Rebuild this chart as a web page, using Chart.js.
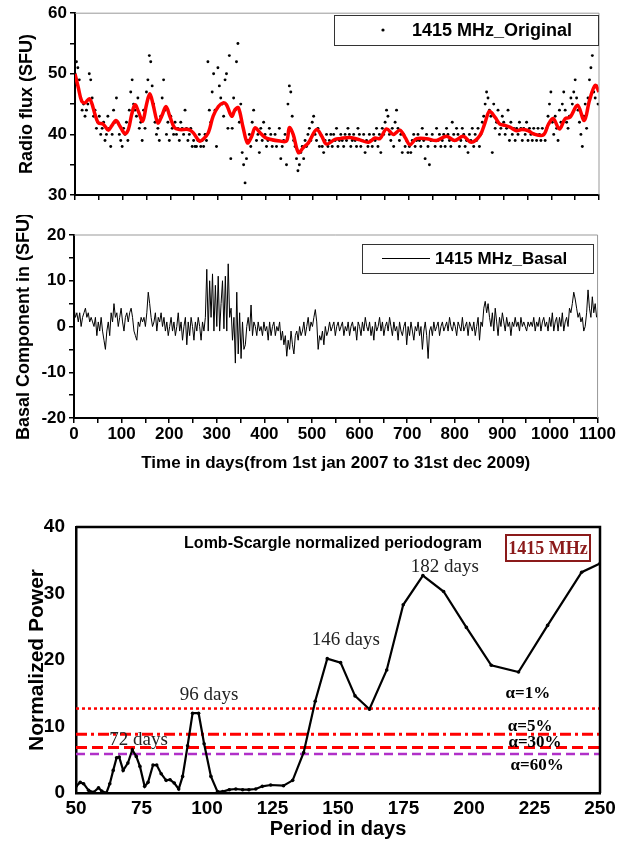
<!DOCTYPE html>
<html>
<head>
<meta charset="utf-8">
<script src="https://cdn.jsdelivr.net/npm/chart.js@4.4.0/dist/chart.umd.min.js"></script>
<style>
  body { margin: 0; background: #fff; }
  #wrap { position: relative; width: 617px; height: 843px; }
  canvas { position: absolute; left: 0; }
</style>
</head>
<body>
<div id="wrap">
  <canvas id="c1" width="617" height="215" style="top:0"></canvas>
  <canvas id="c2" width="617" height="265" style="top:215px"></canvas>
  <canvas id="c3" width="617" height="343" style="top:500px"></canvas>
</div>
<script>
// ---- panel 1: daily flux (one value every 3 days) and its running mean
const dotStep = 3
const dotFlux = [
  50,52,51,49,46,44,45,43,44,45,
  50,49,46,43,44,41,42,43,40,41,
  42,39,40,43,41,38,40,44,42,46,
  42,40,39,38,41,40,42,39,44,47,
  49,45,44,43,46,41,42,39,44,41,
  47,49,53,52,48,45,42,40,41,39,
  43,46,49,44,40,42,39,43,41,40,
  42,40,41,39,42,41,40,44,41,39,
  40,41,38,39,38,38,39,40,38,39,
  38,40,39,52,44,42,47,50,44,38,
  51,48,46,45,43,49,50,41,53,36,
  41,46,44,52,55,42,45,37,35,32,
  36,39,40,38,42,44,41,39,40,37,
  41,39,42,40,38,39,41,40,38,39,
  40,38,39,41,36,38,39,40,35,45,
  48,47,43,39,38,36,34,35,37,38,
  36,39,38,40,41,39,42,43,40,39,
  41,38,40,38,37,39,40,38,39,40,
  38,40,39,41,38,39,40,39,38,40,
  39,41,40,38,39,40,39,38,41,40,
  38,39,40,37,39,38,40,39,38,40,
  39,41,38,40,37,41,40,42,44,43,
  40,39,41,38,42,44,41,39,40,37,
  40,38,39,37,38,37,39,40,38,39,
  40,39,38,41,39,36,40,38,35,39,
  40,39,38,41,39,40,38,39,40,38,
  41,40,39,38,42,40,39,41,40,38,
  39,41,40,38,39,37,40,39,41,38,
  40,39,41,38,40,42,43,45,47,46,
  44,43,37,45,41,42,44,40,41,43,
  42,40,41,44,39,42,40,41,39,41,
  40,42,41,39,41,40,42,39,41,40,
  39,41,40,39,41,40,39,41,40,39,
  41,43,45,47,42,40,43,41,39,44,
  42,45,47,44,42,41,43,46,45,47,
  49,46,44,42,40,38,43,45,41,46,
  49,51,53,47,46,48,45
]

const smoothDays = [0,7,14,21,30,35,42,49,59,70,77,86,94,105,112,119,126,133,142,150,157,164,174,182,191,199,209,220,238,248,261,269,280,290,301,311,318,329,336,343,353,362,371,378,388,399,409,430,444,450,458,469,479,490,507,518,528,546,556,577,598,616,630,640,654,668,682,693,703,717,738,759,780,797,815,832,850,861,870,882,892,903,913,927,938,952,962,983,994,1004,1017,1029,1039,1055,1069,1080,1092,1100]
const smoothFlux = [50,47.7,45.5,45.2,45.9,45.2,43.3,41.9,41.7,40.7,41.4,42.3,41.4,40.1,40.8,43.3,44.9,43.8,42.2,44.9,46.7,44.9,41.9,43,44.6,43,41.1,40.8,40.8,40.3,38.9,39.2,40.3,43,44.6,45.2,44.9,43,44.1,44.4,41.1,38.6,39.7,41.1,40.3,39.5,39.2,38.9,38.9,41.1,40,37,37.8,38.6,40.8,39.7,38.4,39.2,39.3,39.5,39.1,38.7,39.4,39.3,40.9,40,40.7,39.5,38.3,39.3,39.3,39,39.7,39,39.7,38.7,39.8,42,43.8,42.8,41.7,41.5,41.2,40.6,40.8,40.6,40.1,39.9,41.7,42.6,40.9,42.6,42.8,44.8,42.3,45.6,48.1,47]

// ---- panel 2: basal component (one value every 3 days)
const basal = [
  4,2,3,1,3,0,2,3,4,2,
  3,1,2,1,0,2,-2,1,-1,2,
  -1,-3,-5,-1,1,-2,3,1,5,2,
  3,0,2,4,1,-1,2,3,1,3,
  4,2,-1,-2,-3,1,0,2,1,2,
  0,3,7.5,5,2,0,1,3,-1,2,
  1,3,0,2,-1,1,-2,0,2,-1,
  1,-2,0,3,-1,1,-3,0,2,-4,
  1,-2,2,0,-3,1,-1,2,0,-3,
  1,-1,2,12.5,-1,10,2,11.5,-1,9,
  0,11,-1,5,10,-0.5,11,-1,13.7,2,
  4,-3,2,-8,7.5,-6,3,-7,1,-5,
  -4,0,2,-1,4.7,-2,1,0,-2,1,
  -1,0,-2,1,-1,0,-3,1,-2,0,
  1,-2,0,-1,1,-3,-1,-4,-2,-6.5,
  -3,-5,-1,-4,-6,-2,-1,-3,0,-2,
  -1,1,-2,0,2,-1,1,0,2,3.7,
  1,-5,-2,-3,-1,-4,0,-2,-1,1,
  -1,0,1,-2,0,1,-1,0,1,-2,
  0,-1,1,-2,0,1,-1,0,-3,1,
  0,-2,1,-1,2,0,-1,1,-2,0,
  -3,1,-1,0,2,-1,1,-2,0,1,
  -1,2,0,-2,1,-1,0,-3,1,-1,
  -2,0,1,-4,0,-2,1,-1,-3,0,
  -1,1,-2,0,-5,-1,1,-2,-7,-1,
  0,-2,1,-1,0,1,-2,0,1,-1,
  0,1,-1,2,0,-1,1,0,-2,1,
  0,-1,2,-1,0,1,-2,1,0,-1,
  1,-2,0,2,-3,1,0,4,5.5,3,
  5,2,0,3,-1,4,1,-2,2,0,
  3,1,-1,2,0,1,-2,1,0,2,
  0,1,-1,2,0,1,0,-1,1,0,
  1,0,2,-1,1,0,2,-1,1,2,
  0,1,-1,2,0,3,-1,1,2,-1,
  2,0,3,-1,1,2,0,4,3,5,
  7.5,6,4,2,3,1,2,-1,0,3,
  8,4,2,6.5,3,5,2
]

// ---- panel 3: Lomb-Scargle periodogram
const periods = [50,51.6,52.9,54.8,56.7,58.6,59.8,61.6,62.9,64.2,65.5,66.5,68,69.8,71.5,73,74.4,76.2,77.5,79.4,80.8,82.5,84.4,85.9,87.5,89.2,90.7,92.6,94.5,96.8,98.9,101.5,104,106,108.5,111,113.6,116,118.6,121.1,124.3,129.2,132.7,136.9,141.3,145.9,151,156.5,162,168.6,174.9,182.4,190.3,199,208.5,218.9,230,243,250]
const power = [1.0,1.6,1.4,0.4,0.1,0.8,0.3,0.0,1.4,3.4,5.3,5.4,3.4,4.5,6.5,5.5,4.0,1.0,1.6,4.2,4.2,2.9,1.9,2.0,1.5,0.6,2.5,7.1,12.0,12.0,7.4,2.5,0.2,0.2,0.5,0.6,0.5,0.5,0.6,1.0,1.2,1.1,1.9,6.1,13.8,20.2,19.6,14.6,12.6,18.5,28.3,32.7,30.3,24.9,19.2,18.2,25.2,33.2,34.5]
const alphaNames = ['α=1%', 'α=5%', 'α=30%', 'α=60%']
const alphaLevels = [12.7, 8.85, 6.85, 5.85]
const peakNames = ['72 days', '96 days', '146 days', '182 days']

const sans = "'Liberation Sans', Arial, sans-serif"
const serif = "'Liberation Serif', 'Times New Roman', serif"
Chart.defaults.font.family = sans
Chart.defaults.color = '#000'

// gray (or black) line along top and right of the plot area
const framePlugin = {
  id: 'frame',
  afterDraw(chart, args, opts) {
    const ctx = chart.ctx, a = chart.chartArea
    ctx.save()
    ctx.strokeStyle = opts.color
    ctx.lineWidth = opts.width
    ctx.beginPath()
    ctx.moveTo(a.left, a.top)
    ctx.lineTo(a.right, a.top)
    ctx.lineTo(a.right, a.bottom)
    ctx.stroke()
    ctx.restore()
  }
}

// boxed legend drawn in the plot corner
const boxLegend = {
  id: 'boxLegend',
  afterDraw(chart, args, o) {
    const ctx = chart.ctx
    const ds = chart.data.datasets[o.index]
    ctx.save()
    ctx.fillStyle = '#fff'
    ctx.fillRect(o.x, o.y, o.w, o.h)
    ctx.strokeStyle = '#333'
    ctx.lineWidth = 1
    ctx.strokeRect(o.x + 0.5, o.y + 0.5, o.w, o.h)
    const my = o.y + o.h / 2
    ctx.fillStyle = '#000'
    ctx.strokeStyle = '#000'
    if (o.sample === 'dot') {
      ctx.beginPath()
      ctx.arc(o.sx, my, 1.6, 0, Math.PI * 2)
      ctx.fill()
    } else {
      ctx.beginPath()
      ctx.moveTo(o.sx, my)
      ctx.lineTo(o.sx + 48, my)
      ctx.stroke()
    }
    ctx.font = 'bold ' + o.size + 'px ' + sans
    ctx.textBaseline = 'middle'
    ctx.fillText(ds.label, o.tx, my + 1)
    ctx.restore()
  }
}

function xTime(showLabels) {
  return {
    type: 'linear', min: 0, max: 1100,
    border: { color: '#000', width: 2 },
    grid: { drawOnChartArea: false, color: '#000', tickLength: 5, lineWidth: 1.5 },
    ticks: {
      stepSize: 50, autoSkip: false, maxRotation: 0, padding: 1,
      font: { size: 17, weight: 'bold' },
      callback: v => (showLabels && v % 100 === 0) ? String(v) : ''
    }
  }
}

function yAxis(min, max, title, titlePad, width) {
  return {
    min: min, max: max,
    afterFit: s => { s.width = width },
    border: { color: '#000', width: 2 },
    grid: { drawOnChartArea: false, color: '#000', tickLength: 5, lineWidth: 1.5 },
    title: { display: true, text: title, font: { size: 18, weight: 'bold' }, padding: { top: titlePad, bottom: 0 } },
    ticks: {
      stepSize: 5, autoSkip: false, padding: 3,
      font: { size: 17, weight: 'bold' },
      callback: v => v % 10 === 0 ? String(v) : ''
    }
  }
}

// panel 1
const x1 = xTime(false)
x1.afterFit = s => { s.height = 20 }
new Chart(document.getElementById('c1'), {
  type: 'scatter',
  data: {
    datasets: [
      {
        label: 'smoothed',
        data: smoothDays.map((d, i) => ({ x: d, y: smoothFlux[i] })),
        showLine: true, borderColor: '#ff0000', borderWidth: 3.5,
        pointRadius: 0, tension: 0.35, order: 0
      },
      {
        label: '1415 MHz_Original',
        data: dotFlux.map((v, i) => ({ x: i * dotStep, y: v })),
        pointRadius: 1.45, backgroundColor: '#000', borderWidth: 0, order: 1
      }
    ]
  },
  options: {
    responsive: false, animation: false, devicePixelRatio: 1,
    layout: { padding: { top: 11, right: 18, left: 0, bottom: 0 } },
    plugins: {
      legend: { display: false }, tooltip: { enabled: false },
      frame: { color: '#999', width: 1 },
      boxLegend: { index: 1, x: 334, y: 15, w: 264, h: 30, sample: 'dot', sx: 383, tx: 412, size: 18 }
    },
    scales: { x: x1, y: yAxis(30, 60, 'Radio flux (SFU)', 16, 75) }
  },
  plugins: [framePlugin, boxLegend]
})

// panel 2
const x2 = xTime(true)
x2.afterFit = s => { s.height = 62 }
x2.title = {
  display: true, text: 'Time in days(from 1st jan 2007 to 31st dec 2009)',
  font: { size: 17, weight: 'bold' }, padding: { top: 0, bottom: 6 }
}
new Chart(document.getElementById('c2'), {
  type: 'scatter',
  data: {
    datasets: [{
      label: '1415 MHz_Basal',
      data: basal.map((v, i) => ({ x: i * dotStep, y: v })),
      showLine: true, borderColor: '#000', borderWidth: 1, pointRadius: 0
    }]
  },
  options: {
    responsive: false, animation: false, devicePixelRatio: 1,
    layout: { padding: { top: 20, right: 18, left: 0, bottom: 0 } },
    plugins: {
      legend: { display: false }, tooltip: { enabled: false },
      frame: { color: '#999', width: 1 },
      boxLegend: { index: 0, x: 362, y: 29, w: 231, h: 29, sample: 'line', sx: 382, tx: 435, size: 17 }
    },
    scales: { x: x2, y: yAxis(-20, 20, 'Basal Component in (SFU)', 13, 74) }
  },
  plugins: [framePlugin, boxLegend]
})

// panel 3 text: title, band box, peak and significance labels
const notes3 = {
  id: 'notes3',
  afterDraw(chart) {
    const ctx = chart.ctx, xs = chart.scales.x, ys = chart.scales.y
    ctx.save()
    ctx.fillStyle = '#000'
    ctx.textAlign = 'center'
    ctx.textBaseline = 'middle'
    ctx.font = 'bold 16px ' + sans
    ctx.fillText('Lomb-Scargle normalized periodogram', 333, 44)

    ctx.strokeStyle = '#8b1a1a'
    ctx.lineWidth = 2
    ctx.strokeRect(506, 35, 84, 26)
    ctx.fillStyle = '#8b1a1a'
    ctx.font = 'bold 18px ' + serif
    ctx.fillText('1415 MHz', 548, 49)

    ctx.fillStyle = '#222'
    ctx.textBaseline = 'alphabetic'
    ctx.font = '19px ' + serif
    const peakPos = [[73.9, 7.2], [100.8, 14.0], [153, 22.2], [190.8, 33.3]]
    peakNames.forEach((t, i) => {
      ctx.fillText(t, xs.getPixelForValue(peakPos[i][0]), ys.getPixelForValue(peakPos[i][1]))
    })
    ctx.fillStyle = '#000'
    ctx.font = 'bold 17px ' + serif
    const alphaPos = [[222.5, 14.3], [223.3, 9.35], [225.2, 6.9], [226, 3.5]]
    alphaNames.forEach((t, i) => {
      ctx.fillText(t, xs.getPixelForValue(alphaPos[i][0]), ys.getPixelForValue(alphaPos[i][1]))
    })
    ctx.restore()
  }
}

const levelStyles = [
  { color: '#ff0000', dash: [3, 3], width: 2.5 },
  { color: '#ff0000', dash: [11, 4, 3, 4], width: 3 },
  { color: '#ff0000', dash: [11, 5], width: 3 },
  { color: '#b030c8', dash: [9, 5], width: 2.5 }
]

new Chart(document.getElementById('c3'), {
  type: 'scatter',
  data: {
    datasets: [
      {
        label: 'power',
        data: periods.map((p, i) => ({ x: p, y: power[i] })),
        showLine: true, borderColor: '#000', borderWidth: 2.2,
        pointRadius: 1.8, pointBackgroundColor: '#000', pointBorderWidth: 0, order: 0
      }
    ].concat(alphaLevels.map((v, i) => ({
      label: alphaNames[i],
      data: [{ x: 50, y: v }, { x: 250, y: v }],
      showLine: true, pointRadius: 0, order: 1,
      borderColor: levelStyles[i].color, borderDash: levelStyles[i].dash, borderWidth: levelStyles[i].width
    })))
  },
  options: {
    responsive: false, animation: false, devicePixelRatio: 1,
    layout: { padding: { top: 27, right: 17, left: 0, bottom: 0 } },
    plugins: {
      legend: { display: false }, tooltip: { enabled: false },
      frame: { color: '#000', width: 2.5 }
    },
    scales: {
      x: {
        type: 'linear', min: 50, max: 250,
        afterFit: s => { s.height = 50 },
        border: { color: '#000', width: 2.5 },
        grid: { display: false },
        title: { display: true, text: 'Period in days', font: { size: 20, weight: 'bold' }, padding: { top: 0, bottom: 2 } },
        ticks: { stepSize: 25, autoSkip: false, maxRotation: 0, padding: -4, font: { size: 19, weight: 'bold' } }
      },
      y: {
        min: 0, max: 40,
        afterFit: s => { s.width = 76 },
        border: { color: '#000', width: 2.5 },
        grid: { display: false },
        title: { display: true, text: 'Normalized Power', font: { size: 21, weight: 'bold' }, padding: { top: 25, bottom: 0 } },
        ticks: { stepSize: 10, padding: 3, font: { size: 19, weight: 'bold' } }
      }
    }
  },
  plugins: [framePlugin, notes3]
})
</script>
</body>
</html>
